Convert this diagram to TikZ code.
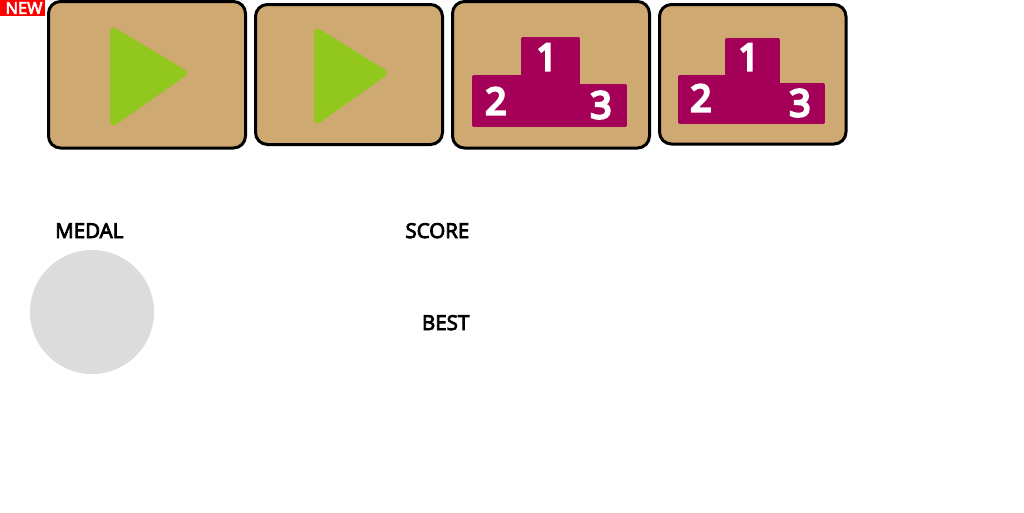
\documentclass[tikz,border=0pt]{standalone}
\usepackage{xcolor}
\usepackage{fontspec}
\setmainfont{Open Sans}
\newfontfamily\semifont[FakeBold=4]{Open Sans}
\newfontfamily\digitfont[FakeBold=7]{Open Sans}

\definecolor{carton}{HTML}{CEA972}
\definecolor{verde}{HTML}{92C71E}
\definecolor{podio}{HTML}{A50057}
\definecolor{medalla}{HTML}{DCDCDC}

\tikzset{
    card/.style={draw=black, fill=carton, line width=3pt, rounded corners=12pt},
    play/.style={draw=verde, fill=verde, line width=7pt, line join=round},
    podium/.style={draw=podio, fill=podio, line width=4pt, line join=round},
    digit/.style={text=white, font=\fontsize{37}{40}\digitfont, inner sep=0pt},
    rotulo/.style={text=black, font=\fontsize{20.5}{24}\semifont, inner sep=0pt, anchor=base east}
}

\begin{document}
\begin{tikzpicture}[x=1pt,y=-1pt]

    \useasboundingbox (0,0) rectangle (1024,512);

    % Tarjetas
    \draw[card] (48.5,1.5) rectangle (245.5,148);
    \draw[card] (255.5,4.5) rectangle (442.5,144.5);
    \draw[card] (452.5,1.5) rectangle (649.5,148);
    \draw[card] (659.5,4.5) rectangle (846,144);

    % Triangulos de play
    \draw[play] (113.5,31) -- (183.5,73) -- (113.5,122) -- cycle;
    \draw[play] (317.5,32) -- (383.5,73) -- (317.5,120) -- cycle;

    % Podio izquierdo
    \draw[podium] (474,77) -- (523,77) -- (523,39) -- (578,39) -- (578,86) -- (625,86) -- (625,125) -- (474,125) -- cycle;
    \node[digit] (uno) at (547,57) {1};
    \node[digit] (dos) at (496,101) {2};
    \node[digit] (tres) at (601,105) {3};

    % Podio derecho
    \draw[podium] (680,77) -- (727,77) -- (727,40) -- (778,40) -- (778,85) -- (823,85) -- (823,122) -- (680,122) -- cycle;
    \node[digit] (unob) at (749,57) {1};
    \node[digit] (dosb) at (701,98) {2};
    \node[digit] (tresb) at (800,103) {3};

    % Etiqueta nuevo
    \fill[red] (0,0) rectangle (45,16);
    \node[text=white, font=\fontsize{16.5}{18}\semifont, inner sep=0pt] (nuevo) at (24,8) {NEW};

    % Medalla
    \fill[medalla] (92,312) circle (62);

    %leyendas
    \node[rotulo] (medal) at (123.5,238) {MEDAL};
    \node[rotulo] (score) at (469.5,238) {SCORE};
    \node[rotulo] (best) at (469.5,330) {BEST};

\end{tikzpicture}
\end{document}
